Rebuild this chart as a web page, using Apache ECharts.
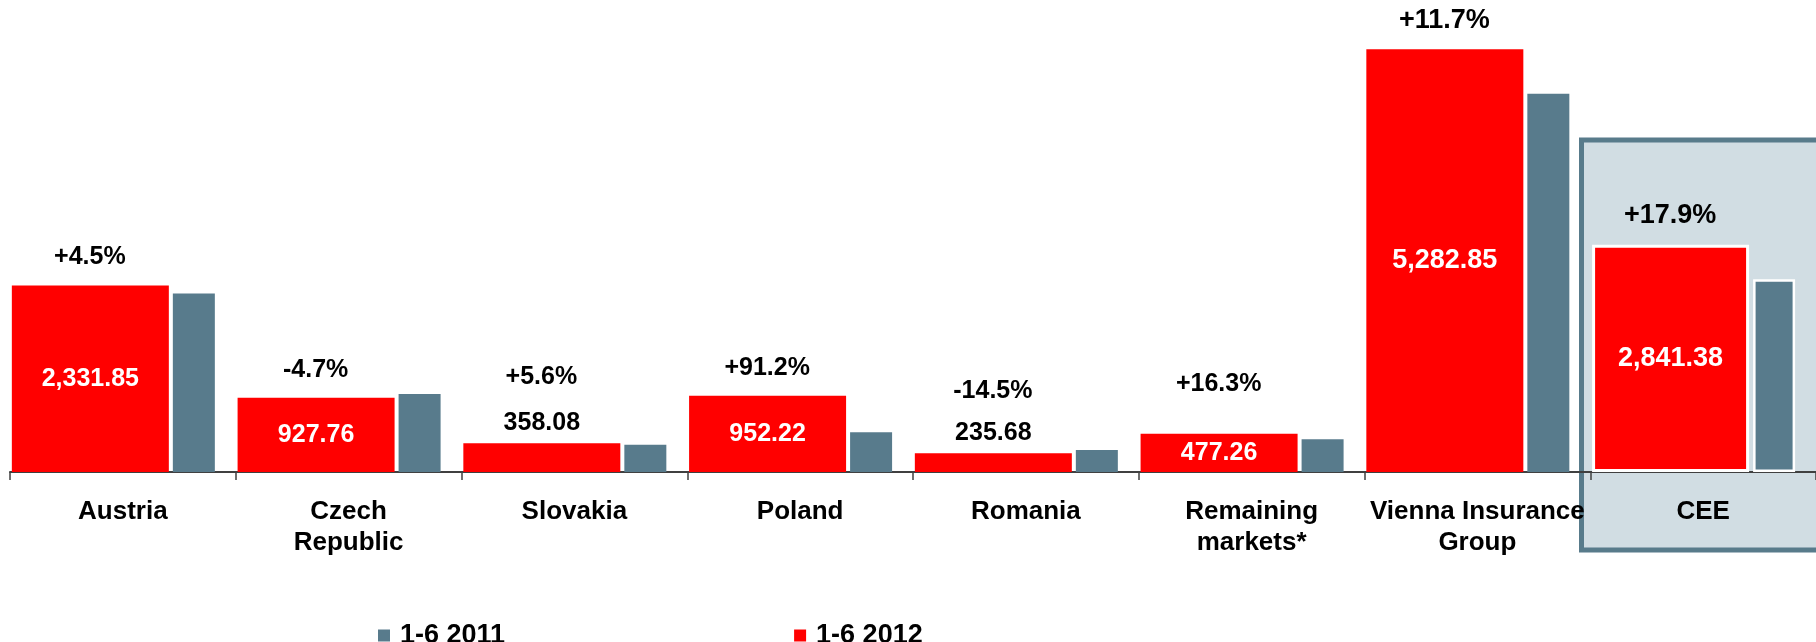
<!DOCTYPE html>
<html lang="en">
<head>
<meta charset="UTF-8">
<title>Premiums 1-6 2012 vs 1-6 2011</title>
<script src="https://cdn.jsdelivr.net/npm/echarts@6/dist/echarts.min.js"></script>
<style>
    html, body { margin: 0; padding: 0; background: #fff; }
    #main { width: 1816px; height: 642px; }
</style>
</head>
<body>
<div id="main"></div>
<script type="text/javascript">
    // data
    var categories = ['Austria', 'Czech\nRepublic', 'Slovakia', 'Poland', 'Romania', 'Remaining\nmarkets*', 'Vienna Insurance\nGroup', 'CEE'];
    var premiums2012 = [2331.85, 927.76, 358.08, 952.22, 235.68, 477.26, 5282.85, 2841.38];
    var premiums2011 = [2231.4, 973.5, 339.1, 498.0, 275.6, 410.4, 4729.5, 2410.0];
    var growth = ['+4.5%', '-4.7%', '+5.6%', '+91.2%', '-14.5%', '+16.3%', '+11.7%', '+17.9%'];

    var RED = '#ff0000';
    var GREY = '#587b8c';
    var FONT = '"Liberation Sans", Arial, sans-serif';

    // small bars carry their value above the bar, so the growth text sits higher there
    var smallBars = [2, 4];
    var pctLift = { 2: 38, 4: 34, 5: 22 };
    var bigLabels = [6, 7];
    var ceeIndex = 7;

    function fmt(v) {
        var parts = v.toFixed(2).split('.');
        return parts[0].replace(/\B(?=(\d{3})+(?!\d))/g, ',') + '.' + parts[1];
    }

    var myChart = echarts.init(document.getElementById('main'));

    var redData = premiums2012.map(function (v, i) {
        var item = { value: v, label: {} };
        if (smallBars.indexOf(i) >= 0) {
            item.label = { position: 'top', distance: 8, color: '#000' };
        }
        if (bigLabels.indexOf(i) >= 0) item.label.fontSize = 27;
        if (i === ceeIndex) item.itemStyle = { borderColor: '#fff', borderWidth: 3 };
        return item;
    });

    var greyData = premiums2011.map(function (v, i) {
        var item = { value: v };
        if (i === ceeIndex) item.itemStyle = { borderColor: '#fff', borderWidth: 2.5 };
        return item;
    });

    var pctData = premiums2012.map(function (v, i) {
        var item = { value: [i, v], label: { offset: [-33, -(pctLift[i] || 0)] } };
        if (bigLabels.indexOf(i) >= 0) item.label.fontSize = 27;
        return item;
    });

    var option = {
        animation: false,
        backgroundColor: '#fff',
        grid: { left: 10, right: -4, top: 8, bottom: 170, containLabel: false },
        legend: {
            data: ['1-6 2011', '1-6 2012'],
            left: 373,
            top: 617,
            icon: 'rect',
            itemWidth: 12,
            itemHeight: 12,
            itemGap: 289,
            textStyle: { fontFamily: FONT, fontWeight: 'bold', fontSize: 27, color: '#000', padding: [0, 0, 0, 5] }
        },
        graphic: [{
            type: 'rect',
            z: -10,
            silent: true,
            shape: { x: 1581.5, y: 140, width: 260, height: 410 },
            style: { fill: '#d1dde3', stroke: '#587b8b', lineWidth: 5 }
        }],
        xAxis: {
            type: 'category',
            data: categories,
            boundaryGap: true,
            axisLine: { lineStyle: { color: '#404040', width: 2 } },
            axisTick: { show: true, length: 8, alignWithLabel: false, lineStyle: { color: '#404040', width: 1.5 } },
            axisLabel: {
                interval: 0,
                margin: 24,
                fontFamily: FONT,
                fontWeight: 'bold',
                fontSize: 26,
                lineHeight: 31,
                color: '#000'
            },
            splitLine: { show: false }
        },
        yAxis: {
            type: 'value',
            min: 0,
            max: 5800,
            show: false,
            splitLine: { show: false }
        },
        series: [
            {
                name: '1-6 2012',
                type: 'bar',
                barWidth: 157,
                barGap: '2.55%',
                itemStyle: { color: RED },
                label: {
                    show: true,
                    position: 'inside',
                    color: '#fff',
                    fontFamily: FONT,
                    fontWeight: 'bold',
                    fontSize: 25,
                    formatter: function (p) { return fmt(p.value); }
                },
                data: redData
            },
            {
                name: '1-6 2011',
                type: 'bar',
                barWidth: 42,
                barGap: '2.55%',
                itemStyle: { color: GREY },
                data: greyData
            },
            {
                // empty slot that keeps each pair left-aligned in its category
                name: 'spacer',
                type: 'bar',
                barWidth: 18,
                barGap: '2.55%',
                silent: true,
                data: categories.map(function () { return '-'; })
            },
            {
                name: 'growth',
                type: 'scatter',
                symbolSize: 1,
                silent: true,
                itemStyle: { color: 'rgba(0,0,0,0)', opacity: 1 },
                label: {
                    show: true,
                    position: 'top',
                    distance: 15,
                    color: '#000',
                    fontFamily: FONT,
                    fontWeight: 'bold',
                    fontSize: 25,
                    formatter: function (p) { return growth[p.dataIndex]; }
                },
                data: pctData
            }
        ]
    };

    myChart.setOption(option);
</script>
</body>
</html>
